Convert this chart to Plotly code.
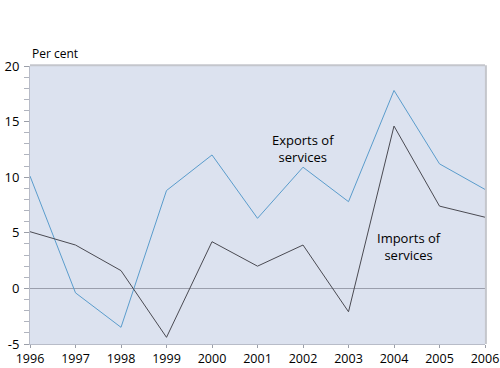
import plotly.graph_objects as go

years = [1996, 1997, 1998, 1999, 2000, 2001, 2002, 2003, 2004, 2005, 2006]
exports = [10.1, -0.4, -3.5, 8.8, 12.0, 6.3, 10.9, 7.8, 17.8, 11.2, 8.9]
imports = [5.1, 3.9, 1.6, -4.4, 4.2, 2.0, 3.9, -2.1, 14.6, 7.4, 6.4]
y_ticks = [-5, 0, 5, 10, 15, 20]
y_tick_labels = ["-5", "0", "5", "10", "15", "20"]

FONT = "Open Sans"

fig = go.Figure()
fig.add_trace(go.Scatter(x=years, y=exports, mode="lines",
                         line=dict(color="#5a9ccc", width=1), name="Exports of services"))
fig.add_trace(go.Scatter(x=years, y=imports, mode="lines",
                         line=dict(color="#4a4a52", width=1), name="Imports of services"))

fig.update_layout(
    width=500, height=368,
    margin=dict(l=30, r=15, t=66, b=24, autoexpand=False),
    paper_bgcolor="white",
    plot_bgcolor="#dce2ef",
    showlegend=False,
    font=dict(family=FONT, size=13, color="#000"),
    xaxis=dict(
        range=[1996, 2006], tickvals=years, ticktext=[str(y) for y in years],
        showgrid=False, zeroline=False, showline=True, linecolor="#b8bcc8", linewidth=1,
        ticks="outside", ticklen=3, tickcolor="#9a9ea8", tickwidth=1,
        tickfont=dict(family=FONT, size=12.5, color="#000"),
        automargin=False, ticklabelstandoff=0,
    ),
    yaxis=dict(
        range=[-5, 20], tickvals=y_ticks, ticktext=y_tick_labels,
        showgrid=False, zeroline=True, zerolinecolor="#9a9eac", zerolinewidth=1,
        showline=True, linecolor="#b8bcc8", linewidth=1,
        ticks="outside", ticklen=5, tickcolor="#9a9ea8", tickwidth=1,
        minor=dict(dtick=1, ticks="outside", ticklen=5, tickcolor="#b0b4be", tickwidth=1),
        tickfont=dict(family=FONT, size=13, color="#000"),
        automargin=False, ticklabelstandoff=2,
    ),
    shapes=[
        dict(type="line", xref="paper", yref="paper", x0=0, x1=1, y0=1.003, y1=1.003,
             line=dict(color="#c4c6cc", width=2)),
        dict(type="line", xref="paper", yref="paper", x0=1.002, x1=1.002, y0=0, y1=1.003,
             line=dict(color="#c4c6cc", width=2)),
    ],
    annotations=[
        dict(text="Per cent", xref="paper", yref="paper", x=0, y=1, xanchor="left", yanchor="bottom",
             yshift=2, showarrow=False, font=dict(family=FONT, size=12, color="#000")),
        dict(text="Exports of<br>services", x=2002.0, y=12.55, xref="x", yref="y",
             showarrow=False, font=dict(family=FONT, size=13, color="#000")),
        dict(text="Imports of<br>services", x=2004.33, y=3.8, xref="x", yref="y",
             showarrow=False, font=dict(family=FONT, size=13, color="#000")),
    ],
)

fig.write_html("out.html", config={"displayModeBar": False},
               post_script="document.body.style.margin='0';document.body.style.overflow='hidden';")
